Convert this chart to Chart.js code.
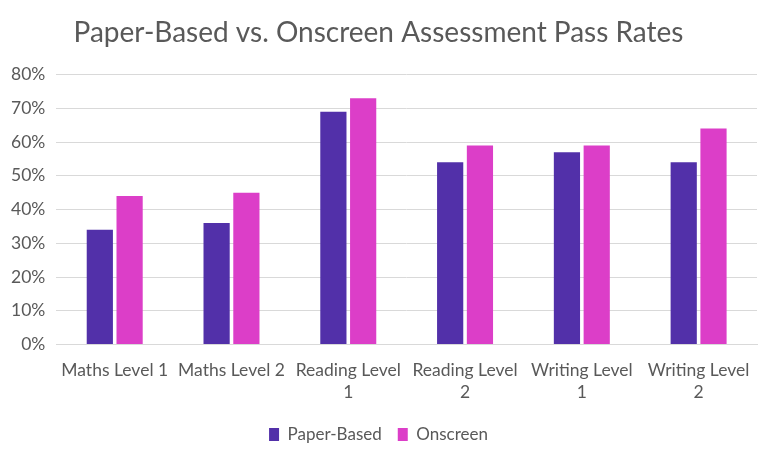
<!DOCTYPE html>
<html>
<head>
<meta charset="utf-8">
<script src="https://cdn.jsdelivr.net/npm/chart.js@4"></script>
<style>
  body { margin: 0; background: #fff; }
  #wrap { width: 765px; height: 454px; position: relative; }
</style>
</head>
<body>
<div id="wrap"><canvas id="passChart"></canvas></div>
<script>
const categories = [
  "Maths Level 1",
  "Maths Level 2",
  ["Reading Level", "1"],
  ["Reading Level", "2"],
  ["Writing Level", "1"],
  ["Writing Level", "2"],
];
const paperBased = [34, 36, 69, 54, 57, 54];
const onscreen = [44, 45, 73, 59, 59, 64];

const textColor = "#595959";
const fontName = "Lato";

const ctx = document.getElementById("passChart").getContext("2d");
new Chart(ctx, {
  type: "bar",
  data: {
    labels: categories,
    datasets: [
      {
        label: "Paper-Based",
        data: paperBased,
        backgroundColor: "#5230A9",
        categoryPercentage: 0.51,
        barPercentage: 0.88,
      },
      {
        label: "Onscreen",
        data: onscreen,
        backgroundColor: "#DC3EC8",
        categoryPercentage: 0.51,
        barPercentage: 0.88,
      },
    ],
  },
  options: {
    responsive: true,
    maintainAspectRatio: false,
    animation: false,
    layout: { padding: { left: 0, right: 8, top: 0, bottom: 1 } },
    scales: {
      x: {
        grid: { display: false },
        border: { color: "#d9d9d9" },
        ticks: {
          color: textColor,
          font: { family: fontName, size: 17.5, lineHeight: 1.3 },
          maxRotation: 0,
          autoSkip: false,
          padding: 6,
        },
      },
      y: {
        min: 0,
        max: 80,
        border: { display: false },
        grid: { color: "#d9d9d9", drawTicks: false },
        ticks: {
          stepSize: 10,
          color: textColor,
          font: { family: fontName, size: 17.5 },
          padding: 11,
          callback: (v) => v + "%",
        },
      },
    },
    plugins: {
      title: {
        display: true,
        text: "Paper-Based vs. Onscreen Assessment Pass Rates",
        color: textColor,
        font: { family: fontName, size: 28, weight: "normal" },
        padding: { top: 16, bottom: 25 },
      },
      legend: {
        position: "bottom",
        labels: {
          color: textColor,
          font: { family: fontName, size: 17 },
          boxWidth: 10,
          boxHeight: 13,
          padding: 16,
        },
      },
      tooltip: { enabled: false },
    },
  },
});
</script>
</body>
</html>
